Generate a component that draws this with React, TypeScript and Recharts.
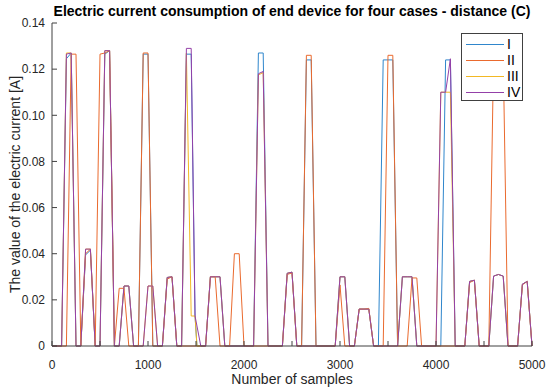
import { LineChart, Line, XAxis, YAxis } from "recharts";

// sample index vs. current [A], corner points
const caseI: [number, number][] = [
  [0, 0], [100, 0], [150, 0.1245], [200, 0.127], [250, 0], [300, 0],
  [350, 0.0395], [400, 0.0415], [450, 0], [500, 0], [550, 0.1265], [600, 0.128],
  [650, 0], [700, 0], [750, 0.026], [800, 0.026], [850, 0], [900, 0],
  [950, 0.1265], [1000, 0.1265], [1050, 0], [1150, 0], [1200, 0.0297], [1250, 0.03],
  [1300, 0], [1350, 0], [1400, 0.1265], [1450, 0.1265], [1490, 0.013], [1510, 0],
  [1600, 0], [1650, 0.03], [1700, 0.03], [1750, 0.03], [1800, 0], [2100, 0],
  [2150, 0.127], [2200, 0.127], [2250, 0], [2400, 0], [2450, 0.0315], [2500, 0.032],
  [2550, 0], [2600, 0], [2650, 0.124], [2700, 0.124], [2750, 0], [2950, 0],
  [3000, 0.03], [3050, 0.03], [3100, 0], [3150, 0], [3200, 0.016], [3250, 0.016],
  [3300, 0.016], [3350, 0], [3400, 0], [3450, 0.124], [3500, 0.124], [3550, 0.124],
  [3600, 0], [3650, 0.03], [3700, 0.03], [3750, 0.03], [3800, 0], [4050, 0],
  [4100, 0.124], [4150, 0.124], [4200, 0], [4300, 0], [4350, 0.028], [4400, 0.0285],
  [4450, 0], [4550, 0], [4600, 0.0303], [4650, 0.031], [4700, 0.0303], [4750, 0],
  [4850, 0], [4900, 0.0268], [4950, 0.028], [5000, 0],
];

const caseII: [number, number][] = [
  [0, 0], [150, 0], [200, 0.1265], [250, 0.1265], [300, 0], [350, 0.04],
  [400, 0.042], [450, 0], [500, 0.1265], [550, 0.127], [600, 0.128], [650, 0],
  [700, 0.025], [750, 0.025], [800, 0], [900, 0], [950, 0.127], [1000, 0.127],
  [1050, 0], [1150, 0], [1200, 0.029], [1250, 0.03], [1300, 0], [1600, 0],
  [1650, 0.03], [1700, 0.03], [1750, 0], [1850, 0], [1900, 0.04], [1950, 0.04],
  [2000, 0], [2400, 0], [2450, 0.031], [2500, 0.0317], [2550, 0], [2600, 0],
  [2650, 0.126], [2700, 0.126], [2750, 0], [2950, 0], [3000, 0.0265], [3050, 0],
  [3150, 0], [3200, 0.016], [3250, 0.016], [3300, 0.0163], [3350, 0], [3450, 0],
  [3500, 0.126], [3550, 0.126], [3600, 0], [3700, 0], [3750, 0.0295], [3800, 0.0295],
  [3850, 0], [4300, 0], [4350, 0.0275], [4400, 0.0285], [4450, 0], [4550, 0],
  [4600, 0.126], [4650, 0.126], [4700, 0.126], [4750, 0], [4850, 0], [4900, 0.0265],
  [4950, 0.028], [5000, 0],
];

const caseIII: [number, number][] = [
  [0, 0], [100, 0], [150, 0.127], [200, 0.127], [250, 0], [300, 0],
  [350, 0.042], [400, 0.042], [450, 0], [500, 0], [550, 0.128], [600, 0.128],
  [650, 0], [700, 0], [750, 0.026], [800, 0.026], [850, 0], [950, 0],
  [1000, 0.026], [1050, 0.026], [1100, 0], [1150, 0], [1200, 0.0297], [1250, 0.03],
  [1300, 0], [1350, 0], [1400, 0.127], [1450, 0.013], [1490, 0.013], [1510, 0],
  [1600, 0], [1650, 0.03], [1700, 0.03], [1750, 0.03], [1800, 0], [2100, 0],
  [2150, 0.1175], [2200, 0.1185], [2250, 0], [2400, 0], [2450, 0.0315], [2500, 0.032],
  [2550, 0], [2950, 0], [3000, 0.03], [3050, 0.03], [3100, 0], [3150, 0],
  [3200, 0.016], [3250, 0.016], [3300, 0.016], [3350, 0], [3600, 0], [3650, 0.03],
  [3700, 0.03], [3750, 0.03], [3800, 0], [4000, 0], [4050, 0.11], [4100, 0.11],
  [4150, 0.11], [4200, 0], [4300, 0], [4350, 0.028], [4400, 0.0285], [4450, 0],
  [4550, 0], [4600, 0.0303], [4650, 0.031], [4700, 0.0303], [4750, 0], [4850, 0],
  [4900, 0.0268], [4950, 0.028], [5000, 0],
];

const caseIV: [number, number][] = [
  [0, 0], [100, 0], [150, 0.1265], [200, 0.127], [250, 0], [300, 0],
  [350, 0.042], [400, 0.042], [450, 0], [500, 0], [550, 0.128], [600, 0.128],
  [650, 0], [700, 0], [750, 0.026], [800, 0.026], [850, 0], [950, 0],
  [1000, 0.026], [1050, 0.026], [1100, 0], [1150, 0], [1200, 0.0297], [1250, 0.03],
  [1300, 0], [1350, 0], [1400, 0.129], [1450, 0.129], [1490, 0.013], [1550, 0],
  [1600, 0], [1650, 0.03], [1700, 0.03], [1750, 0.03], [1800, 0], [2100, 0],
  [2150, 0.118], [2200, 0.119], [2250, 0], [2400, 0], [2450, 0.0315], [2500, 0.032],
  [2550, 0], [2950, 0], [3000, 0.03], [3050, 0.03], [3100, 0], [3150, 0],
  [3200, 0.016], [3250, 0.016], [3300, 0.016], [3350, 0], [3600, 0], [3650, 0.03],
  [3700, 0.03], [3750, 0.03], [3800, 0], [4000, 0], [4050, 0.11], [4100, 0.11],
  [4150, 0.1245], [4200, 0], [4300, 0], [4350, 0.028], [4400, 0.0285], [4450, 0],
  [4550, 0], [4600, 0.0303], [4650, 0.031], [4700, 0.0303], [4750, 0], [4850, 0],
  [4900, 0.0268], [4950, 0.028], [5000, 0],
];

const seriesNames = ["I", "II", "III", "IV"];
const seriesColors = ["#2F86CC", "#EA6A2E", "#F2B824", "#9440A8"];
const xTicks = [0, 500, 1000, 1500, 2000, 2500, 3000, 3500, 4000, 4500, 5000];
const yTicks = [0, 0.02, 0.04, 0.06, 0.08, 0.1, 0.12, 0.14];

const FONT = "'Liberation Sans', Arial, sans-serif";
const AXIS = "#404040";

const toPoints = (arr: [number, number][]) => arr.map(([x, y]) => ({ x, y }));

export default function App() {
  const all = [caseI, caseII, caseIII, caseIV];
  const tickStyle = { fill: "#262626", fontSize: 12, fontFamily: FONT };

  return (
    <div
      style={{
        position: "absolute",
        left: 0,
        top: 0,
        width: 550,
        height: 392,
        background: "#fff",
        fontFamily: FONT,
      }}
    >
      <div
        style={{
          position: "absolute",
          left: 0,
          width: 584,
          top: 3,
          textAlign: "center",
          fontWeight: "bold",
          fontSize: 14,
          color: "#000",
          whiteSpace: "nowrap",
        }}
      >
        Electric current consumption of end device for four cases - distance (C)
      </div>

      <LineChart
        width={550}
        height={392}
        margin={{ top: 23, right: 18, bottom: 0, left: 0 }}
      >
        <XAxis
          dataKey="x"
          type="number"
          domain={[0, 5000]}
          ticks={xTicks}
          interval={0}
          tickFormatter={(v: number) => (v % 1000 === 0 ? String(v) : "")}
          height={46}
          tickSize={-5}
          tickMargin={19}
          stroke={AXIS}
          tick={tickStyle}
          label={{
            value: "Number of samples",
            position: "insideBottom",
            offset: 8,
            fill: "#262626",
            fontSize: 14,
            fontFamily: FONT,
          }}
        />
        <XAxis
          xAxisId="top"
          orientation="top"
          type="number"
          domain={[0, 5000]}
          ticks={xTicks}
          interval={0}
          tickFormatter={() => ""}
          height={0}
          tickSize={-5}
          stroke={AXIS}
        />
        <YAxis
          type="number"
          domain={[0, 0.14]}
          ticks={yTicks}
          interval={0}
          tickFormatter={(v: number) => (v === 0 ? "0" : v.toFixed(2))}
          width={52}
          tickSize={-5}
          tickMargin={12}
          stroke={AXIS}
          tick={tickStyle}
          label={{
            value: "The value of the electric current [A]",
            angle: -90,
            position: "insideLeft",
            offset: 15,
            fill: "#262626",
            fontSize: 14,
            fontFamily: FONT,
            style: { textAnchor: "middle" },
          }}
        />
        <YAxis
          yAxisId="right"
          orientation="right"
          type="number"
          domain={[0, 0.14]}
          ticks={yTicks}
          interval={0}
          tickFormatter={() => ""}
          width={0}
          tickSize={-5}
          stroke={AXIS}
        />
        {all.map((s, i) => (
          <Line
            key={seriesNames[i]}
            data={toPoints(s)}
            dataKey="y"
            type="linear"
            stroke={seriesColors[i]}
            strokeWidth={1}
            dot={false}
            activeDot={false}
            isAnimationActive={false}
          />
        ))}
      </LineChart>

      {/* legend box, top right inside the axes */}
      <div
        style={{
          position: "absolute",
          left: 461,
          top: 33,
          width: 60,
          height: 66,
          background: "#fff",
          border: `1px solid ${AXIS}`,
        }}
      >
        {seriesNames.map((name, i) => (
          <div
            key={name}
            style={{
              position: "absolute",
              left: 4,
              top: 2 + i * 16,
              height: 16,
              display: "flex",
              alignItems: "center",
              fontSize: 14,
              color: "#000",
            }}
          >
            <span
              style={{
                display: "inline-block",
                width: 38,
                height: 0,
                borderTop: `1px solid ${seriesColors[i]}`,
                marginRight: 3,
              }}
            />
            {name}
          </div>
        ))}
      </div>
    </div>
  );
}
